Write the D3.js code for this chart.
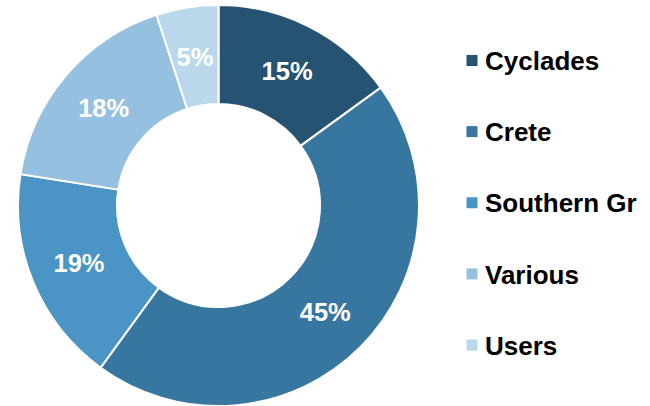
<!DOCTYPE html>
<html>
<head>
<meta charset="utf-8">
<script src="https://cdn.jsdelivr.net/npm/d3@7"></script>
<style>
  body { margin: 0; background: #fff; }
  svg { display: block; font-family: "Liberation Sans", Arial, sans-serif; }
</style>
</head>
<body>
<svg id="vis" width="650" height="406"></svg>
<script>
// chart data
const regions = ["Cyclades", "Crete", "Southern Gr", "Various", "Users"];
const shares = [15, 45, 17.5, 17.5, 5];
const shareLabels = ["15%", "45%", "19%", "18%", "5%"];
const colors = ["#275372", "#37769f", "#4a94c6", "#96c0df", "#bad7eb"];

const svg = d3.select("svg#vis");

const cx = 218.5, cy = 205.5;
const outerR = 200.5, innerR = 101.5;

const color = d3.scaleOrdinal().domain(regions).range(colors);

const pie = d3.pie()
  .sort(null)
  .value(function(d, i) { return shares[i]; });

const arc = d3.arc()
  .innerRadius(innerR)
  .outerRadius(outerR);

const labelArc = d3.arc()
  .innerRadius((innerR + outerR) / 2)
  .outerRadius((innerR + outerR) / 2);

const donut = svg.append("g")
  .attr("transform", "translate(" + cx + "," + cy + ")");

const slices = donut.selectAll("g.slice")
  .data(pie(regions))
  .enter()
  .append("g")
  .attr("class", "slice");

slices.append("path")
  .attr("d", arc)
  .attr("fill", function(d) { return color(d.data); })
  .attr("stroke", "#fff")
  .attr("stroke-width", 2);

slices.append("text")
  .attr("transform", function(d) { return "translate(" + labelArc.centroid(d) + ")"; })
  .attr("text-anchor", "middle")
  .attr("dy", "0.36em")
  .attr("fill", "#fff")
  .attr("font-weight", "bold")
  .attr("font-size", 25.5)
  .text(function(d, i) { return shareLabels[i]; });

// legend
const legendY = d3.scalePoint()
  .domain(regions)
  .range([60.5, 345]);

const legend = svg.append("g")
  .attr("transform", "translate(466.5,0)");

const item = legend.selectAll("g.item")
  .data(regions)
  .enter()
  .append("g")
  .attr("class", "item")
  .attr("transform", function(d) { return "translate(0," + legendY(d) + ")"; });

item.append("rect")
  .attr("x", 0)
  .attr("y", -5.5)
  .attr("width", 11)
  .attr("height", 11)
  .attr("fill", function(d) { return color(d); });

item.append("text")
  .attr("x", 18.5)
  .attr("dy", "0.37em")
  .attr("fill", "#000")
  .attr("font-weight", "bold")
  .attr("font-size", 26)
  .text(function(d) { return d; });
</script>
</body>
</html>
